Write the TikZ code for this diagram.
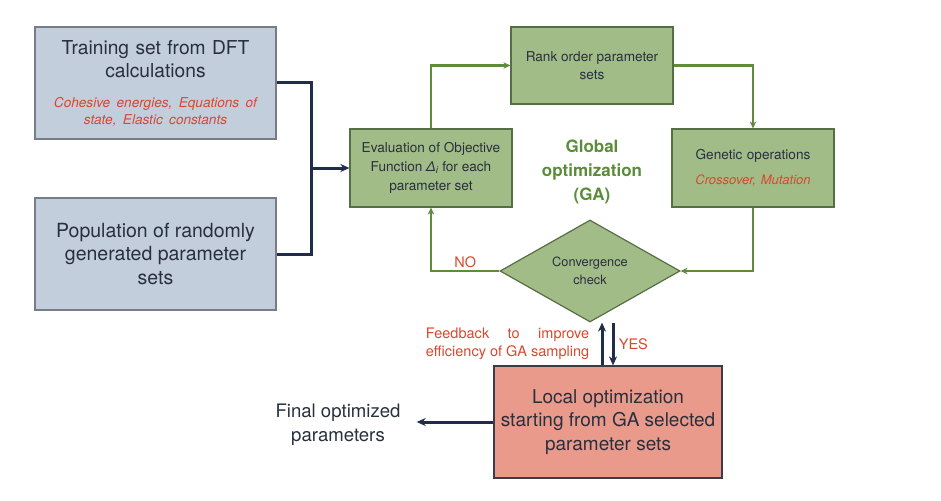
\documentclass[tikz,border=0pt]{standalone}
\usepackage{fontspec}
\setmainfont{TeX Gyre Heros}
\usetikzlibrary{shapes.geometric,arrows.meta,positioning}

\definecolor{boxblue}{HTML}{C3CEDD}
\definecolor{blueedge}{HTML}{777D88}
\definecolor{boxgreen}{HTML}{A2BC88}
\definecolor{greenedge}{HTML}{566E44}
\definecolor{boxsalmon}{HTML}{E99A8B}
\definecolor{salmonedge}{HTML}{3C3C48}
\definecolor{linegreen}{HTML}{5E8C3C}
\definecolor{linenavy}{HTML}{1F2D4A}
\definecolor{textdark}{HTML}{28303E}
\definecolor{textred}{HTML}{D9472F}
\definecolor{textgreen}{HTML}{5B8C3A}

\begin{document}
\begin{tikzpicture}[x=1pt, y=1pt,
  bluebox/.style={draw=blueedge, fill=boxblue, line width=1.2pt, rectangle, text centered, text=textdark, minimum width=241pt, minimum height=112pt},
  greenbox/.style={draw=greenedge, fill=boxgreen, line width=1.2pt, rectangle, text centered, text=textdark, minimum width=162pt, minimum height=78pt, font=\fontsize{13.6}{18.7}\selectfont},
  glink/.style={draw=linegreen, line width=2.2pt, >={Stealth[length=7pt,width=6.5pt]}},
  nlink/.style={draw=linenavy, line width=3pt, >={Stealth[length=9pt,width=8pt]}},
  note/.style={text=textred, font=\fontsize{14.5}{18}\selectfont}]

\useasboundingbox (0,0) rectangle (941,-500);

\node (train) [bluebox, text width=225pt, align=center, font=\fontsize{19.2}{23}\selectfont] at (155.5,-83) {Training set from DFT\\ calculations\par\vspace{13pt}{\fontsize{13.6}{17}\selectfont\itshape\color{textred}Cohesive energies, Equations of\\ state, Elastic constants\par}};

\node (pop) [bluebox, below of=train, node distance=171pt, align=center, font=\fontsize{19.5}{23.5}\selectfont] {Population of randomly\\ generated parameter\\ sets};

\node (eval) [greenbox, right of=train, node distance=275.5pt, yshift=-85pt, align=center] {Evaluation of Objective\\ Function {\itshape Δ}\textsubscript{\itshape i} for each\\ parameter set};

\node (rank) [greenbox, right of=eval, node distance=161pt, yshift=102.5pt, minimum height=77pt, align=center] {Rank order parameter\\ sets};

\node (gen) [greenbox, right of=eval, node distance=322pt, text width=150pt, align=center] {Genetic operations\par\vspace{9pt}{\fontsize{13}{16}\selectfont\itshape\color{textred}Crossover, Mutation\par}};

\node (ga) [below of=rank, node distance=106.5pt, text=textgreen, align=center, font=\bfseries\fontsize{17}{24}\selectfont] {Global\\ optimization\\ (GA)};

\node (conv) [draw=greenedge, fill=boxgreen, line width=1.2pt, diamond, aspect=1.76, minimum width=180pt, minimum height=102pt, inner sep=0pt, below of=rank, node distance=205.5pt, xshift=-2pt, text=textdark, align=center, font=\fontsize{12.8}{17.5}\selectfont] {Convergence\\ check};

\node (local) [draw=salmonedge, fill=boxsalmon, line width=1.2pt, rectangle, minimum width=228pt, minimum height=112pt, below of=conv, node distance=151pt, xshift=18pt, text=textdark, align=center, font=\fontsize{19}{23.5}\selectfont] {Local optimization\\ starting from GA selected\\ parameter sets};

\node (final) [left of=local, node distance=270pt, yshift=-3pt, inner xsep=16pt, text=textdark, align=center, font=\fontsize{18.6}{24}\selectfont] {Final optimized\\ parameters};

% inputs into the GA loop
\coordinate (join) at ([xshift=-38pt]eval.west);
\draw[nlink] (train.east) -| (join) |- (pop.east);
\draw[nlink,->] (join) -- (eval.west);

% GA loop
\draw[glink,->] (eval.north) |- (rank.west);
\draw[glink,->] (rank.east) -| (gen.north);
\draw[glink,->] (gen.south) |- (conv.east);
\draw[glink,->] (conv.west) -| (eval.south) node (no) [pos=0.25, above, inner sep=2pt, note] {NO};

% GA <-> local optimization
\coordinate (up) at ([xshift=-6pt]local.north);
\coordinate (dn) at ([xshift=5pt]local.north);
\draw[nlink,->] (up) -- (up |- conv.south) node (fb) [midway, left, xshift=-8pt, note, align=left] {\setbox0\hbox{efficiency of GA sampling}\hbox to \wd0{Feedback\hfill to\hfill improve}\\ efficiency of GA sampling};
\draw[nlink,<-] (dn) -- (dn |- conv.south) node (yes) [midway, right, xshift=1pt, note] {YES};

\draw[nlink,->] (local.west) -- (local.west -| final.east);

\end{tikzpicture}
\end{document}
